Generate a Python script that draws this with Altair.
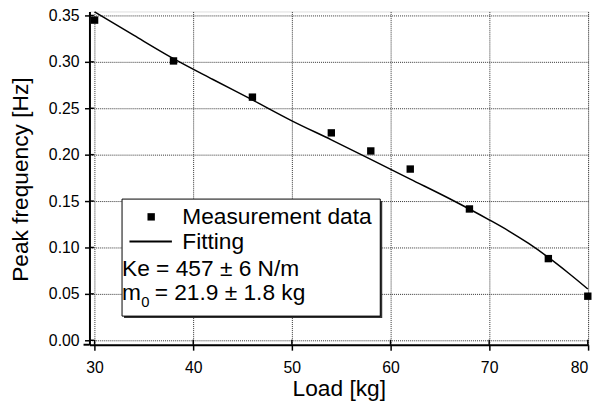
import altair as alt
import pandas as pd

# Measured data
load = [30, 38, 46, 54, 58, 62, 68, 76, 80]
freq = [0.345, 0.301, 0.262, 0.2235, 0.204, 0.1845, 0.1415, 0.088, 0.0475]

# Fitting curve
fit_load = [30, 34, 38, 42, 46, 50, 54, 58, 62, 66, 70, 72, 74, 76, 78, 80]
fit_freq = [0.354, 0.3285, 0.3035, 0.281, 0.259, 0.2365, 0.216, 0.195, 0.1737,
            0.1525, 0.1298, 0.1177, 0.1043, 0.0893, 0.0728, 0.0553]

x_ticks = [30, 40, 50, 60, 70, 80]
y_ticks = [0.0, 0.05, 0.10, 0.15, 0.20, 0.25, 0.30, 0.35]

legend_labels = ["Measurement data", "Fitting"]
fit_lines = ["Ke = 457 \u00b1 6 N/m", "m", "0", "= 21.9 \u00b1 1.8 kg"]

W, H = 505, 337.5
FONT = "Liberation Sans"

xscale = alt.Scale(domain=[29.48, 80.03], nice=False, zero=False)
yscale = alt.Scale(domain=[-0.0048, 0.3543], nice=False, zero=False)

pts = pd.DataFrame({"load": load, "freq": freq})
fit = pd.DataFrame({"load": fit_load, "freq": fit_freq})
xt = pd.DataFrame({"load": x_ticks})
yt = pd.DataFrame({"freq": y_ticks})
one = pd.DataFrame({"a": [0]})

xaxis = alt.Axis(values=x_ticks, format="d", title="Load [kg]", titleX=W / 2, titleY=51,
                 titleBaseline="alphabetic", titleFontSize=23, titleFontWeight="normal",
                 titleFont=FONT, titleColor="black",
                 labelFont=FONT, labelFontSize=16, labelColor="black", labelPadding=10,
                 tickSize=5.5, tickWidth=1.5, tickColor="black",
                 domainWidth=2, domainColor="black",
                 grid=True, gridDash=[1, 1], gridColor="#333", gridWidth=1)
yaxis = alt.Axis(values=y_ticks, format=".2f", title="Peak frequency [Hz]", titleX=-63,
                 titleY=H / 2 + 1, titleBaseline="alphabetic", titleFontSize=23,
                 titleFontWeight="normal", titleFont=FONT, titleColor="black",
                 labelFont=FONT, labelFontSize=16, labelColor="black", labelPadding=5.5,
                 tickSize=5, tickWidth=1.5, tickColor="black",
                 domainWidth=2, domainColor="black",
                 grid=True, gridDash=[1, 1], gridColor="#333", gridWidth=1)

X = alt.X("load:Q", scale=xscale, axis=xaxis)
Y = alt.Y("freq:Q", scale=yscale, axis=yaxis)

line = alt.Chart(fit).mark_line(color="black", strokeWidth=1.5, interpolate="monotone").encode(
    x=X, y=Y)
points = alt.Chart(pts).mark_square(size=56, color="black", opacity=1).encode(x=X, y=Y)

# inner halves of the tick marks
xin = alt.Chart(xt).mark_rule(color="black", strokeWidth=1.5).encode(
    x=X, y=alt.value(H), y2=alt.value(H - 5))
yin = alt.Chart(yt).mark_rule(color="black", strokeWidth=1.5).encode(
    y=Y, x=alt.value(0), x2=alt.value(4.5))
xext = alt.Chart(one).mark_rule(color="black", strokeWidth=2).encode(
    x=alt.value(-6), x2=alt.value(0), y=alt.value(H))

# legend box
shadow = alt.Chart(one).mark_rect(color="#333").encode(
    x=alt.value(35), x2=alt.value(296.5), y=alt.value(192), y2=alt.value(310.5))
box = alt.Chart(one).mark_rect(fill="white", stroke="black", strokeWidth=1).encode(
    x=alt.value(33), x2=alt.value(294.5), y=alt.value(190), y2=alt.value(308.5))
lg_sq = alt.Chart(one).mark_square(size=56, color="black", opacity=1).encode(
    x=alt.value(62.5), y=alt.value(208))
lg_ln = alt.Chart(one).mark_rule(color="black", strokeWidth=2).encode(
    x=alt.value(40.5), x2=alt.value(83.5), y=alt.value(233))


def txt(s, x, y, size=23):
    return alt.Chart(one).mark_text(text=s, align="left", baseline="alphabetic", font=FONT,
                                    fontSize=size, color="black").encode(
        x=alt.value(x), y=alt.value(y))


texts = [
    txt(legend_labels[0], 94, 215),
    txt(legend_labels[1], 94, 241),
    txt(fit_lines[0], 33, 268),
    txt(fit_lines[1], 33, 292.7),
    txt(fit_lines[2], 52.5, 299, 15),
    txt(fit_lines[3], 66, 292.7),
]

chart = alt.layer(line, points, xin, yin, xext, shadow, box, lg_sq, lg_ln, *texts).properties(
    width=W, height=H,
    autosize=alt.AutoSizeParams(type="none"),
    padding={"left": 82.5, "top": 1, "right": 8, "bottom": 58},
).configure_view(stroke=None).configure(background="white")

chart.save("out.html", embed_options={"renderer": "svg", "actions": False})
